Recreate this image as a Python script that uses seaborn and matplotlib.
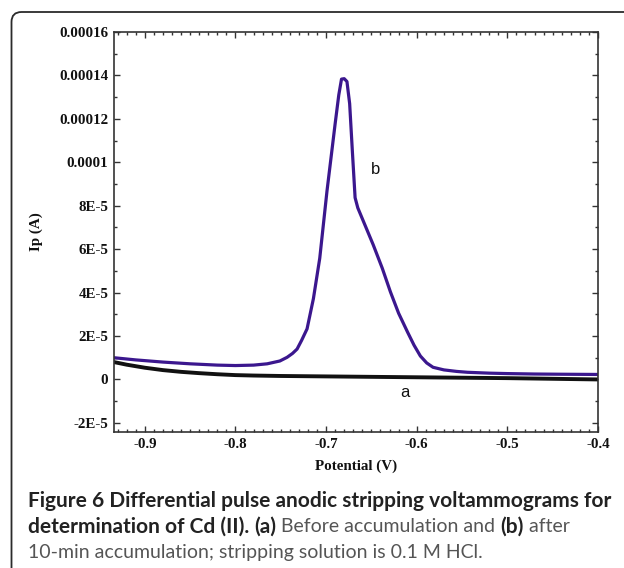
import numpy as np
import pandas as pd
import matplotlib
matplotlib.use("Agg")
import matplotlib.pyplot as plt
import seaborn as sns
from matplotlib.patches import FancyBboxPatch
from matplotlib.transforms import IdentityTransform
from matplotlib.ticker import FixedLocator, FixedFormatter, MultipleLocator

# ---------------- data ----------------
pot_b = [-0.934, -0.91, -0.88, -0.85, -0.82, -0.80, -0.78, -0.765, -0.751, -0.743,
         -0.737, -0.732, -0.727, -0.721, -0.714, -0.707, -0.699, -0.690, -0.686,
         -0.683, -0.680, -0.677, -0.674, -0.671, -0.668, -0.665, -0.662, -0.655,
         -0.648, -0.638, -0.629, -0.620, -0.610, -0.603, -0.596, -0.589, -0.582,
         -0.570, -0.556, -0.544, -0.52, -0.50, -0.47, -0.44, -0.40]
cur_b = [1.00e-5, 0.90e-5, 0.80e-5, 0.72e-5, 0.66e-5, 0.64e-5, 0.66e-5, 0.72e-5, 0.85e-5, 1.02e-5,
         1.20e-5, 1.40e-5, 1.80e-5, 2.33e-5, 3.72e-5, 5.58e-5, 8.68e-5, 1.178e-4, 1.31e-4,
         1.383e-4, 1.385e-4, 1.372e-4, 1.27e-4, 1.05e-4, 8.37e-5, 7.90e-5, 7.60e-5, 6.90e-5,
         6.20e-5, 5.12e-5, 4.03e-5, 3.05e-5, 2.17e-5, 1.58e-5, 1.08e-5, 0.76e-5, 0.56e-5,
         0.44e-5, 0.37e-5, 0.33e-5, 0.29e-5, 0.27e-5, 0.25e-5, 0.24e-5, 0.23e-5]

pot_a = [-0.934, -0.92, -0.90, -0.88, -0.86, -0.84, -0.82, -0.80, -0.78, -0.75,
         -0.70, -0.65, -0.60, -0.55, -0.50, -0.45, -0.40]
cur_a = [0.80e-5, 0.68e-5, 0.54e-5, 0.43e-5, 0.35e-5, 0.29e-5, 0.24e-5, 0.20e-5, 0.18e-5, 0.16e-5,
         0.14e-5, 0.12e-5, 0.10e-5, 0.08e-5, 0.06e-5, 0.03e-5, 0.0]

x_ticks = [-0.9, -0.8, -0.7, -0.6, -0.5, -0.4]
x_tick_labels = ["-0.9", "-0.8", "-0.7", "-0.6", "-0.5", "-0.4"]
y_ticks = [-2e-5, 0, 2e-5, 4e-5, 6e-5, 8e-5, 1e-4, 1.2e-4, 1.4e-4, 1.6e-4]
y_tick_labels = ["-2E-5", "0", "2E-5", "4E-5", "6E-5", "8E-5", "0.0001", "0.00012", "0.00014", "0.00016"]

x_label = "Potential (V)"
y_label = "Ip (A)"
curve_labels = ["a", "b"]

caption_lines = [
    [("Figure 6 Differential pulse anodic stripping voltammograms for", "bold")],
    [("determination of Cd (II). ", "bold"), ("(a)", "bold"), (" Before accumulation and ", "normal"),
     ("(b)", "bold"), (" after", "normal")],
    [("10-min accumulation; stripping solution is 0.1 M HCl.", "normal")],
]

# ---------------- plot ----------------
sns.set_theme(style="white")
plt.rcParams["font.family"] = ["Liberation Serif", "DejaVu Serif"]

fig = plt.figure(figsize=(6.24, 5.68), dpi=100)
W, H = 624, 568
ax = fig.add_axes([114 / W, 1 - 432 / H, 484 / W, 400 / H])

df_a = pd.DataFrame({"Potential": pot_a, "Current": cur_a})
df_b = pd.DataFrame({"Potential": pot_b, "Current": cur_b})
sns.lineplot(data=df_a, x="Potential", y="Current", ax=ax, color="#111111", lw=2.8,
             sort=False, estimator=None)
sns.lineplot(data=df_b, x="Potential", y="Current", ax=ax, color="#3b178e", lw=2.3,
             sort=False, estimator=None)

ax.set_xlim(-0.934, -0.4)
ax.set_ylim(-2.42e-5, 1.6e-4)

ax.xaxis.set_major_locator(FixedLocator(x_ticks))
ax.xaxis.set_major_formatter(FixedFormatter(x_tick_labels))
ax.xaxis.set_minor_locator(MultipleLocator(0.01))
ax.yaxis.set_major_locator(FixedLocator(y_ticks))
ax.yaxis.set_major_formatter(FixedFormatter(y_tick_labels))
ax.yaxis.set_minor_locator(MultipleLocator(1e-5))

ax.tick_params(which="both", direction="in", top=True, right=True, bottom=True, left=True,
               color="#333333", width=1.0, labelsize=10.8, labelcolor="#111111", pad=4)
ax.tick_params(which="major", length=4.5)
ax.tick_params(which="minor", length=2.2)
for lab in ax.get_xticklabels() + ax.get_yticklabels():
    lab.set_fontweight("bold")

for s in ax.spines.values():
    s.set_color("#333333")
    s.set_linewidth(1.2)

ax.set_xlabel(x_label, fontsize=10.8, fontweight="bold", color="#111111")
ax.set_ylabel(y_label, fontsize=10.8, fontweight="bold", color="#111111")
ax.xaxis.set_label_coords(0.5, -0.07)
ax.yaxis.set_label_coords(-0.147, 0.5)

ax.text(-0.645, 9.67e-5, curve_labels[1], fontsize=12, family="Liberation Sans",
        ha="center", va="center", color="#111111")
ax.text(-0.613, -0.6e-5, curve_labels[0], fontsize=12, family="Liberation Sans",
        ha="center", va="center", color="#111111")

# rounded frame
box = FancyBboxPatch((11.5, -30), 700, H - 12 + 30, boxstyle="round,pad=0,rounding_size=10",
                     transform=IdentityTransform(), fill=False, ec="#2b2b2b", lw=1.3)
fig.add_artist(box)

# caption
renderer = fig.canvas.get_renderer()
cap_sizes = {"bold": 15.0, "normal": 14.0}
line_y = [507, 532.5, 558]
for line, yy in zip(caption_lines, line_y):
    xx = 28
    for txt, wt in line:
        t = fig.text(xx / W, 1 - yy / H, txt, fontsize=cap_sizes[wt], fontweight=wt,
                     family=["Lato", "DejaVu Sans"], va="baseline", ha="left",
                     color="#222222" if wt == "bold" else "#555555")
        bb = t.get_window_extent(renderer=renderer)
        xx += bb.width

fig.savefig("out.png", dpi=100)
